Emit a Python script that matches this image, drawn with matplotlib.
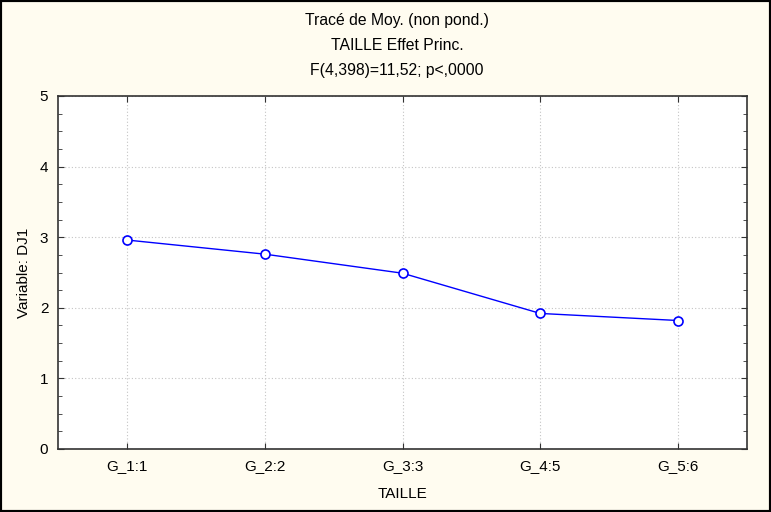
import numpy as np
import matplotlib.pyplot as plt
from matplotlib.patches import Rectangle
from matplotlib.ticker import MultipleLocator

plt.rcParams['font.family'] = ['Liberation Sans', 'DejaVu Sans']

groups = ["G_1:1", "G_2:2", "G_3:3", "G_4:5", "G_5:6"]
means = [2.96, 2.76, 2.49, 1.92, 1.82]

title_lines = ["Tracé de Moy. (non pond.)",
               "TAILLE Effet Princ.",
               "F(4,398)=11,52; p<,0000"]

bg = "#fffcf0"

fig = plt.figure(figsize=(7.71, 5.12), dpi=100, facecolor=bg)
ax = fig.add_axes([58 / 771, 63 / 512, 689 / 771, 353 / 512])
ax.set_facecolor("white")

x = np.arange(1, len(groups) + 1)
ax.plot(x, means, color="#0000ff", linewidth=1.0, marker="o",
        markersize=6.5, markerfacecolor="white", markeredgecolor="#0000ff",
        markeredgewidth=1.2, zorder=3)

ax.set_xlim(0.5, len(groups) + 0.5)
ax.set_ylim(0, 5)
ax.set_xticks(x)
ax.set_xticklabels(groups)
ax.yaxis.set_major_locator(MultipleLocator(1))
ax.yaxis.set_minor_locator(MultipleLocator(0.25))

ax.tick_params(axis="both", which="both", direction="in", top=True, right=True,
               labelsize=11, color="#333333")
ax.tick_params(axis="both", which="major", length=4, pad=7)
ax.tick_params(axis="y", which="minor", length=3)
ax.grid(True, which="major", linestyle=(0, (1, 2)), color="#c4c4c4", linewidth=0.8)

for sp in ax.spines.values():
    sp.set_color("#333333")
    sp.set_linewidth(1.2)

ax.set_xlabel("TAILLE", fontsize=11, labelpad=10)
ax.set_ylabel("Variable: DJ1", fontsize=11, labelpad=6)

# title block sits slightly right of the figure centre
for i, line in enumerate(title_lines):
    fig.text(397 / 771, 1 - (20 + 25 * i) / 512, line, ha="center", va="center",
             fontsize=11.3)

fig.patches.append(Rectangle((0, 0), 1, 1, transform=fig.transFigure,
                             fill=False, edgecolor="black", linewidth=3))

fig.savefig("out.png", dpi=100, facecolor=bg)
